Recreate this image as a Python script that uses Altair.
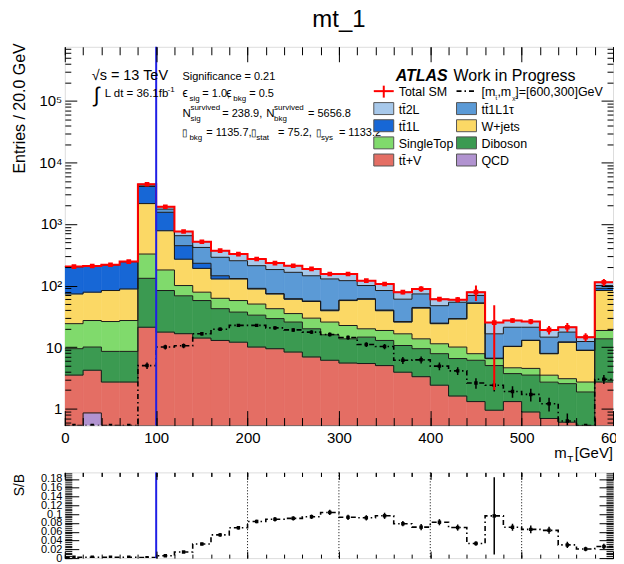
import altair as alt
import numpy as np
import pandas as pd

FONT = "Liberation Sans"

# ---------------- data ----------------
bin_lo = list(range(0, 600, 20))          # 30 bins of 20 GeV
bin_w = 20

qcd       = [0, 0.85, 0, 0, 0, 0, 0, 0, 0, 0, 0, 0, 0, 0, 0, 0, 0, 0, 0, 0, 0, 0, 0, 0, 0, 0, 0, 0, 0, 0]
ttv       = [3.5, 3.35, 2.7, 2.7, 21, 17.5, 16.5, 14, 12.8, 12, 10, 9.4, 8.3, 6.9, 6.1, 5.5, 5.4, 5.0, 3.9, 3.3,
             2.4, 1.6, 1.3, 0.94, 1.3, 0.88, 0.69, 0.6, 0, 2.7]
diboson   = [5.9, 5.8, 5.8, 5.8, 110, 65.5, 51.5, 43, 29.2, 25, 23, 19.6, 17.2, 12.9, 9.7, 8.1, 9.1, 7.8, 6.7, 6.1,
             5.4, 4.9, 4.8, 4.06, 2.4, 2.62, 2.0, 1.94, 1.86, 10.9]
singletop = [14.6, 17, 17.5, 18.5, 194, 96, 32, 21, 20, 20, 17, 13, 9.5, 9.7, 9.7, 8.8, 5.3, 5.8, 5.8, 4.2,
             3.5, 3.5, 1.7, 1.5, 0.9, 1.0, 0.8, 0.52, 0.84, 5.0]
wjets     = [49, 51, 57, 61, 1825, 599, 168, 112, 66, 71, 38, 31, 25, 25.5, 13.5, 34.6, 40.2, 20.4, 9.1, 29.4,
             12.7, 18.7, 43.7, 0, 5.6, 8.3, 4.3, 8.94, 6.1, 64.4]
tt1l      = [130, 130, 135, 157, 1920, 772, 176, 40, 16, 2, 2, 1, 1, 1, 1, 1, 1, 1, 0.5, 1,
             0.5, 0.3, 0.5, 0.1, 0.1, 0.1, 0.1, 0.1, 0.1, 7]
tt1l1tau  = [0, 0, 0, 0, 230, 195, 202, 186, 144, 123, 120, 108, 103, 88, 88, 62, 39, 43, 34, 29,
             22.5, 24.5, 17, 9.8, 10.7, 8.1, 6.6, 5.4, 3.4, 10]
tt2l      = [0, 0, 0, 0, 130, 165, 109, 99, 81, 72, 60, 50, 46, 42, 26, 34, 20, 23, 18, 15,
             13, 5.5, 9, 8.6, 6, 5, 4.5, 3.5, 2.2, 13]
total_err = [4, 4, 4, 4, 60, 30, 12, 10, 8, 7, 6, 6, 6, 7, 8, 8, 8, 5, 6, 9,
             5, 6, 22, 23, 2.5, 2.5, 3, 3.5, 2.2, 15]

signal    = [0.4, 0.4, 0.4, 0.45, 5, 10, 10.5, 16.5, 19.5, 22.5, 22.5, 20.5, 19, 17.5, 16, 14.3, 11, 10.2, 6.1, 6.2,
             4.9, 4.1, 2.6, 2.4, 1.9, 1.7, 1.2, 0.63, 0.3, 3.0]
signal_err = [0.1, 0.1, 0.1, 0.1, 0.6, 0.9, 0.9, 1.1, 1.2, 1.3, 1.3, 1.3, 1.2, 1.2, 1.2, 1.1, 1.0, 1.0, 0.8, 0.8,
              0.7, 0.6, 0.5, 0.5, 0.4, 0.4, 0.3, 0.2, 0.15, 0.5]
sb_err    = [0.001, 0.001, 0.001, 0.001, 0.001, 0.001, 0.002, 0.003, 0.004, 0.004, 0.004, 0.005, 0.005, 0.005,
             0.006, 0.006, 0.006, 0.007, 0.006, 0.007, 0.007, 0.007, 0.005, 0.088, 0.008, 0.009, 0.008, 0.007,
             0.005, 0.006]

stack_order = ["QCD", "tt\u0304+V", "Diboson", "SingleTop", "W+jets", "tt\u03041L", "tt\u03041L1\u03c4", "tt\u03042L"]
stack_vals = [qcd, ttv, diboson, singletop, wjets, tt1l, tt1l1tau, tt2l]
stack_colors = ["#b193d0", "#e46e64", "#3b9a51", "#80da6c", "#fbd865", "#1767d6", "#5b9ad6", "#a7c8ea"]

# legend layout: (name, column, row)
legend_cells = [("tt\u03042L", 0, 0), ("tt\u03041L1\u03c4", 1, 0), ("tt\u03041L", 0, 1), ("W+jets", 1, 1),
                ("SingleTop", 0, 2), ("Diboson", 1, 2), ("tt\u0304+V", 0, 3), ("QCD", 1, 3)]

# ---------------- tables ----------------
n = len(bin_lo)
FLOOR = 0.05
rect_rows, line_rows = [], []
cum = np.zeros(n)
for name, vals in zip(stack_order, stack_vals):
    v = np.array(vals, dtype=float)
    upper = cum + v
    for i in range(n):
        if v[i] > 0:
            rect_rows.append(dict(comp=name, x0=bin_lo[i], x1=bin_lo[i] + bin_w,
                                  y0=max(cum[i], FLOOR), y1=upper[i]))
    for i in range(n):
        line_rows.append(dict(comp=name, x=bin_lo[i], y=max(upper[i], FLOOR)))
    line_rows.append(dict(comp=name, x=bin_lo[-1] + bin_w, y=max(upper[-1], FLOOR)))
    cum = upper
total = cum
rect_df = pd.DataFrame(rect_rows)
line_df = pd.DataFrame(line_rows)

edges_x = bin_lo + [bin_lo[-1] + bin_w]
tot_step = pd.DataFrame({"x": edges_x, "y": list(total) + [total[-1]]})
sig_step = pd.DataFrame({"x": edges_x, "y": signal + [signal[-1]]})
centers = [b + bin_w / 2 for b in bin_lo]
tot_pts = pd.DataFrame({"x": centers, "y": total,
                        "lo": np.maximum(total - np.array(total_err), FLOOR),
                        "hi": total + np.array(total_err)})
sig_arr = np.array(signal)
sig_pts = pd.DataFrame({"x": centers, "y": sig_arr,
                        "lo": np.maximum(sig_arr - np.array(signal_err), FLOOR),
                        "hi": sig_arr + np.array(signal_err)})
sb = sig_arr / total
sb_step = pd.DataFrame({"x": edges_x, "y": list(sb) + [sb[-1]]})
sb_pts = pd.DataFrame({"x": centers, "y": sb,
                       "lo": np.maximum(sb - np.array(sb_err), 0),
                       "hi": sb + np.array(sb_err)})

color_of = dict(zip(stack_order, stack_colors))
leg_rows = []
for name, col, row in legend_cells:
    sx = 310 + 83 * col
    sy = 56 + 17.2 * row
    leg_rows.append(dict(label=name, color=color_of[name], sx=sx, sx2=sx + 20, sy=sy, sy2=sy + 12,
                         lx=sx + 25, ly=sy + 11))
leg_df = pd.DataFrame(leg_rows)

# ---------------- scales ----------------
W, H_MAIN, H_RATIO = 550, 380, 86
xs = alt.Scale(domain=[0, 600], nice=False, zero=False)
ys = alt.Scale(type="log", domain=[0.53, 7.6e5], nice=False, clamp=True)
rs = alt.Scale(domain=[0, 0.195], nice=False, zero=False, clamp=True)
cs = alt.Scale(domain=stack_order, range=stack_colors)


def tick_axis(orient, values, size):
    return alt.Axis(orient=orient, values=values, labels=False, domain=False, grid=False,
                    ticks=True, tickSize={"expr": str(-size)}, tickColor="black", tickWidth=1,
                    title=None, zindex=2)


def carrier_layers(xscale, yscale, pairs, xv, yv):
    df = pd.DataFrame({"x": [xv], "y": [yv]})
    out = []
    for ax, ay in pairs:
        out.append(alt.Chart(df).mark_point(opacity=0).encode(
            x=alt.X("x:Q", scale=xscale, axis=ax),
            y=alt.Y("y:Q", scale=yscale, axis=ay)))
    return out


def px_text(rows, align="left", **kw):
    df = pd.DataFrame(rows, columns=["text", "px", "py", "size"])
    return alt.Chart(df).mark_text(font=FONT, align=align, baseline="alphabetic", color="black", **kw).encode(
        x=alt.X("px:Q", scale=None, axis=None), y=alt.Y("py:Q", scale=None, axis=None),
        text="text:N", size=alt.Size("size:Q", scale=None, legend=None))


major_x = list(range(0, 601, 100))
minor_x = list(range(0, 601, 20))
major_y = [1, 10, 100, 1000, 1e4, 1e5]
minor_y = [m * 10.0 ** e for e in range(-1, 6) for m in range(2, 10) if 0.53 < m * 10.0 ** e < 7.6e5]

ylab_expr = ("datum.value < 5 ? '1' : datum.value < 50 ? '10' : '10' + "
             "['','','\u00b2','\u00b3','\u2074','\u2075','\u2076'][round(log(datum.value)/LN10)]")

main_label_x = alt.Axis(orient="bottom", values=major_x, ticks=False, domain=False, grid=False,
                        labelFont=FONT, labelFontSize=15, labelColor="black", labelPadding=5,
                        labelOverlap=False, labelFlush=False, title=None, zindex=2)
main_label_y = alt.Axis(orient="left", values=major_y, ticks=False, domain=False, grid=False,
                        labelFont=FONT, labelFontSize=15, labelColor="black", labelPadding=3,
                        labelOverlap=False, labelExpr=ylab_expr,
                        title="Entries / 20.0 GeV", titleFont=FONT, titleFontSize=16,
                        titleFontWeight="normal", titleColor="black", titleX=-45, titleY=-4,
                        titleAlign="right", titleBaseline="middle", titleAngle=270, zindex=2)

# ---------------- main panel ----------------
rects = alt.Chart(rect_df).mark_rect(clip=True, opacity=1, strokeWidth=0.6).encode(
    x=alt.X("x0:Q", scale=xs, axis=None), x2="x1:Q",
    y=alt.Y("y0:Q", scale=ys, axis=None), y2="y1:Q",
    color=alt.Color("comp:N", scale=cs, legend=None),
    stroke=alt.Stroke("comp:N", scale=cs, legend=None))

outlines = alt.Chart(line_df).mark_line(interpolate="step-after", color="#1a1a1a", strokeWidth=1,
                                        clip=True).encode(
    x=alt.X("x:Q", scale=xs, axis=None), y=alt.Y("y:Q", scale=ys, axis=None),
    detail="comp:N", order=alt.Order("x:Q"))

tot_line = alt.Chart(tot_step).mark_line(interpolate="step-after", color="#ff0000", strokeWidth=2,
                                         clip=True).encode(
    x=alt.X("x:Q", scale=xs, axis=None), y=alt.Y("y:Q", scale=ys, axis=None), order=alt.Order("x:Q"))
tot_err = alt.Chart(tot_pts).mark_rule(color="#ff0000", strokeWidth=2, clip=True).encode(
    x=alt.X("x:Q", scale=xs, axis=None), y=alt.Y("lo:Q", scale=ys, axis=None), y2="hi:Q")
tot_mk = alt.Chart(tot_pts).mark_square(color="#ff0000", size=22, opacity=1, clip=True).encode(
    x=alt.X("x:Q", scale=xs, axis=None), y=alt.Y("y:Q", scale=ys, axis=None))

sig_line = alt.Chart(sig_step).mark_line(interpolate="step-after", color="black", strokeWidth=1.6,
                                         strokeDash=[5, 3, 1.5, 3], clip=True).encode(
    x=alt.X("x:Q", scale=xs, axis=None), y=alt.Y("y:Q", scale=ys, axis=None), order=alt.Order("x:Q"))
sig_err = alt.Chart(sig_pts).mark_rule(color="black", strokeWidth=1.5, clip=True).encode(
    x=alt.X("x:Q", scale=xs, axis=None), y=alt.Y("lo:Q", scale=ys, axis=None), y2="hi:Q")
sig_mk = alt.Chart(sig_pts).mark_square(color="black", size=12, opacity=1, clip=True).encode(
    x=alt.X("x:Q", scale=xs, axis=None), y=alt.Y("y:Q", scale=ys, axis=None))

cut_df = pd.DataFrame({"x": [100]})
blue_main = alt.Chart(cut_df).mark_rule(color="#1f1fe6", strokeWidth=2).encode(
    x=alt.X("x:Q", scale=xs, axis=None))

ann = px_text([
    ("\u221as = 13 TeV", 27, 33, 14.5),
    ("\u222b", 29, 55, 21),
    ("L dt = 36.1fb", 40, 50, 11.5),
    ("-1", 103, 45, 8),
    ("Significance = 0.21", 118, 33, 11),
    ("\u03f5", 118, 50, 12), ("sig", 125, 54, 8), ("= 1.0,", 138, 50, 11),
    ("\u03f5", 162, 50, 12), ("bkg", 169, 54, 8), ("= 0.5", 185, 50, 11),
    ("N", 118, 70, 11.5), ("survived", 126, 63, 8), ("sig", 126, 74, 8), ("= 238.9,", 158, 70, 11),
    ("N", 202, 70, 11.5), ("survived", 210, 63, 8), ("bkg", 210, 74, 8), ("= 5656.8", 244, 70, 11),
    ("\u25af", 118, 90, 10), ("bkg", 125, 94, 8), ("= 1135.7,", 142, 90, 11),
    ("\u25af", 187, 90, 10), ("stat", 192, 94, 8), ("= 75.2,", 214, 90, 11),
    ("\u25af", 252, 90, 10), ("sys", 257, 94, 8), ("= 1133.2", 275, 90, 11),
    ("Work in Progress", 390, 34, 16),
    ("Total SM", 335, 49, 12.5),
    ("[m", 418, 49, 12.5), ("t\u0303", 432, 53, 6), (",m", 434, 49, 12.5), ("\u03c7\u0303", 449, 53, 6),
    ("]=[600,300]GeV", 452, 49, 12.5),
    ("m", 491, 413, 15), ("T", 504, 417, 10),
])
atlas = px_text([("ATLAS", 332, 34, 16)], fontStyle="italic", fontWeight="bold")
xtitle_r = px_text([("[GeV]", W, 413, 15)], align="right")

leg_boxes = alt.Chart(leg_df).mark_rect(stroke="#555555", strokeWidth=1, opacity=1).encode(
    x=alt.X("sx:Q", scale=None, axis=None), x2="sx2:Q",
    y=alt.Y("sy:Q", scale=None, axis=None), y2="sy2:Q",
    fill=alt.Color("color:N", scale=None, legend=None))
leg_labels = alt.Chart(leg_df).mark_text(font=FONT, fontSize=12.5, align="left", baseline="alphabetic",
                                         color="black").encode(
    x=alt.X("lx:Q", scale=None, axis=None), y=alt.Y("ly:Q", scale=None, axis=None), text="label:N")

leg_rules = pd.DataFrame({"x": [310, 320, 393], "x2": [330, 320, 413], "y": [44.5, 39, 44.5],
                          "y2": [44.5, 51, 44.5], "kind": ["tot", "tot", "sig"]})
leg_tot = alt.Chart(leg_rules[leg_rules.kind == "tot"]).mark_rule(color="#ff0000", strokeWidth=2).encode(
    x=alt.X("x:Q", scale=None, axis=None), x2="x2:Q", y=alt.Y("y:Q", scale=None, axis=None), y2="y2:Q")
leg_sig = alt.Chart(leg_rules[leg_rules.kind == "sig"]).mark_rule(color="black", strokeWidth=1.6,
                                                                   strokeDash=[5, 3, 1.5, 3]).encode(
    x=alt.X("x:Q", scale=None, axis=None), x2="x2:Q", y=alt.Y("y:Q", scale=None, axis=None), y2="y2:Q")

main_carriers = carrier_layers(xs, ys, [
    (main_label_x, main_label_y),
    (tick_axis("bottom", major_x, 15), tick_axis("left", major_y, 12)),
    (tick_axis("bottom", minor_x, 8), tick_axis("left", minor_y, 6)),
    (tick_axis("top", major_x, 15), tick_axis("right", major_y, 12)),
    (tick_axis("top", minor_x, 8), tick_axis("right", minor_y, 6)),
], 300, 10)

main = alt.layer(rects, outlines, sig_line, sig_err, sig_mk, tot_line, tot_err, tot_mk, blue_main,
                 ann, atlas, xtitle_r, leg_boxes, leg_labels, leg_tot, leg_sig, *main_carriers).resolve_axis(
    x="independent", y="independent").properties(
    width=W, height=H_MAIN,
    title=alt.TitleParams("mt_1", font=FONT, fontSize=24, fontWeight="normal", color="black",
                          anchor="middle", frame="group", offset=11))

# ---------------- ratio panel ----------------
major_r = [round(0.02 * k, 2) for k in range(10)]
minor_r = [round(0.004 * k, 3) for k in range(49)]
ratio_label_y = alt.Axis(orient="left", values=major_r, ticks=False, domain=False, grid=False,
                         labelFont=FONT, labelFontSize=11, labelColor="black", labelPadding=3,
                         labelOverlap=False, format=".2~f", title="S/B", titleFont=FONT, titleFontSize=14,
                         titleFontWeight="normal", titleColor="black", titleX=-45, titleY=1,
                         titleAlign="right", titleBaseline="middle", titleAngle=270, zindex=2)

grid_df = pd.DataFrame({"x": [200, 300, 400, 500]})
grid = alt.Chart(grid_df).mark_rule(color="black", strokeWidth=1, strokeDash=[1, 2]).encode(
    x=alt.X("x:Q", scale=xs, axis=None))
sb_line = alt.Chart(sb_step).mark_line(interpolate="step-after", color="black", strokeWidth=1.6,
                                       strokeDash=[5, 3, 1.5, 3], clip=True).encode(
    x=alt.X("x:Q", scale=xs, axis=None), y=alt.Y("y:Q", scale=rs, axis=None), order=alt.Order("x:Q"))
sb_errs = alt.Chart(sb_pts).mark_rule(color="black", strokeWidth=1.5, clip=True).encode(
    x=alt.X("x:Q", scale=xs, axis=None), y=alt.Y("lo:Q", scale=rs, axis=None), y2="hi:Q")
sb_mk = alt.Chart(sb_pts).mark_square(color="black", size=12, opacity=1, clip=True).encode(
    x=alt.X("x:Q", scale=xs, axis=None), y=alt.Y("y:Q", scale=rs, axis=None))
blue_ratio = alt.Chart(cut_df).mark_rule(color="#1f1fe6", strokeWidth=2).encode(
    x=alt.X("x:Q", scale=xs, axis=None))

ratio_carriers = carrier_layers(xs, rs, [
    (tick_axis("bottom", major_x, 7), ratio_label_y),
    (tick_axis("bottom", minor_x, 4), tick_axis("left", major_r, 14)),
    (tick_axis("top", major_x, 7), tick_axis("left", minor_r, 7)),
    (tick_axis("top", minor_x, 4), tick_axis("right", major_r, 14)),
    (tick_axis("top", minor_x, 4), tick_axis("right", minor_r, 7)),
], 300, 0.05)

ratio = alt.layer(grid, sb_line, sb_errs, sb_mk, blue_ratio, *ratio_carriers).resolve_axis(
    x="independent", y="independent").properties(width=W, height=H_RATIO)

chart = alt.vconcat(main, ratio, spacing=5).resolve_scale(color="independent").properties(
    padding={"left": 3, "top": -2, "right": -11, "bottom": 0}).configure_view(
    stroke="black", strokeWidth=1).configure(font=FONT)

chart.save("out.html", embed_options={"renderer": "svg", "actions": False})
